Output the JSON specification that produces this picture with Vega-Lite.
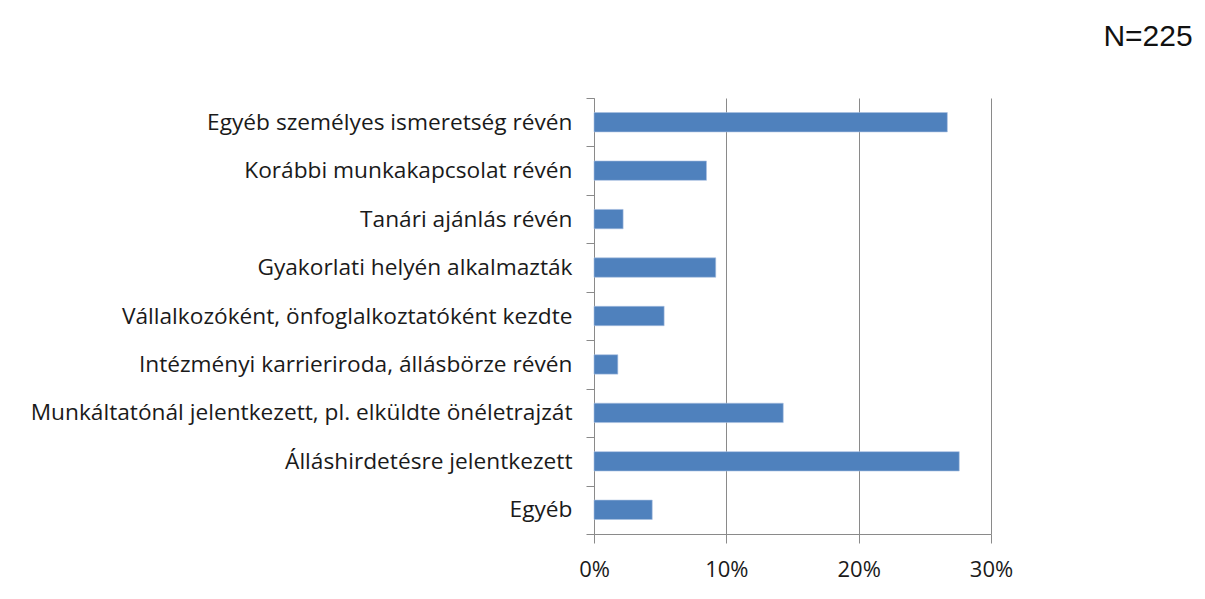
{
  "$schema": "https://vega.github.io/schema/vega-lite/v6.json",
  "width": 397,
  "height": 436,
  "autosize": {"type": "none"},
  "padding": {"left": 594, "top": 98, "right": 214, "bottom": 65},
  "background": "white",
  "title": {
    "text": "N=225",
    "anchor": "end",
    "orient": "top",
    "dx": 180,
    "offset": 35,
    "font": "Liberation Sans",
    "fontSize": 30,
    "fontWeight": "normal",
    "color": "#111111"
  },
  "data": {
    "values": [
      {"kategoria": "Egyéb személyes ismeretség révén", "arany": 0.267},
      {"kategoria": "Korábbi munkakapcsolat révén", "arany": 0.085},
      {"kategoria": "Tanári ajánlás révén", "arany": 0.022},
      {"kategoria": "Gyakorlati helyén alkalmazták", "arany": 0.092},
      {"kategoria": "Vállalkozóként, önfoglalkoztatóként kezdte", "arany": 0.053},
      {"kategoria": "Intézményi karrieriroda, állásbörze révén", "arany": 0.018},
      {"kategoria": "Munkáltatónál jelentkezett, pl. elküldte önéletrajzát", "arany": 0.143},
      {"kategoria": "Álláshirdetésre jelentkezett", "arany": 0.276},
      {"kategoria": "Egyéb", "arany": 0.044}
    ]
  },
  "mark": {"type": "bar", "color": "#4f81bd", "stroke": "#a9c0e0", "strokeWidth": 0.6, "height": {"band": 0.4}},
  "encoding": {
    "y": {
      "field": "kategoria",
      "type": "nominal",
      "sort": null,
      "scale": {"paddingInner": 0, "paddingOuter": 0},
      "axis": {
        "title": null,
        "domainColor": "#8a8a8a",
        "domainWidth": 1,
        "tickColor": "#8a8a8a",
        "tickSize": 8,
        "tickBand": "extent",
        "labelFont": "Open Sans",
        "labelFontSize": 22.7,
        "labelColor": "#1a1a1a",
        "labelPadding": 14,
        "labelLimit": 600,
        "grid": false
      }
    },
    "x": {
      "field": "arany",
      "type": "quantitative",
      "scale": {"domain": [0, 0.3], "nice": false},
      "axis": {
        "title": null,
        "format": ".0%",
        "values": [0, 0.1, 0.2, 0.3],
        "domainColor": "#8a8a8a",
        "tickColor": "#8a8a8a",
        "tickSize": 9,
        "gridColor": "#8a8a8a",
        "gridWidth": 1,
        "labelFont": "Open Sans",
        "labelFontSize": 22,
        "labelColor": "#1a1a1a",
        "labelPadding": 16,
        "labelFlush": false
      }
    }
  },
  "config": {"view": {"stroke": null}}
}
